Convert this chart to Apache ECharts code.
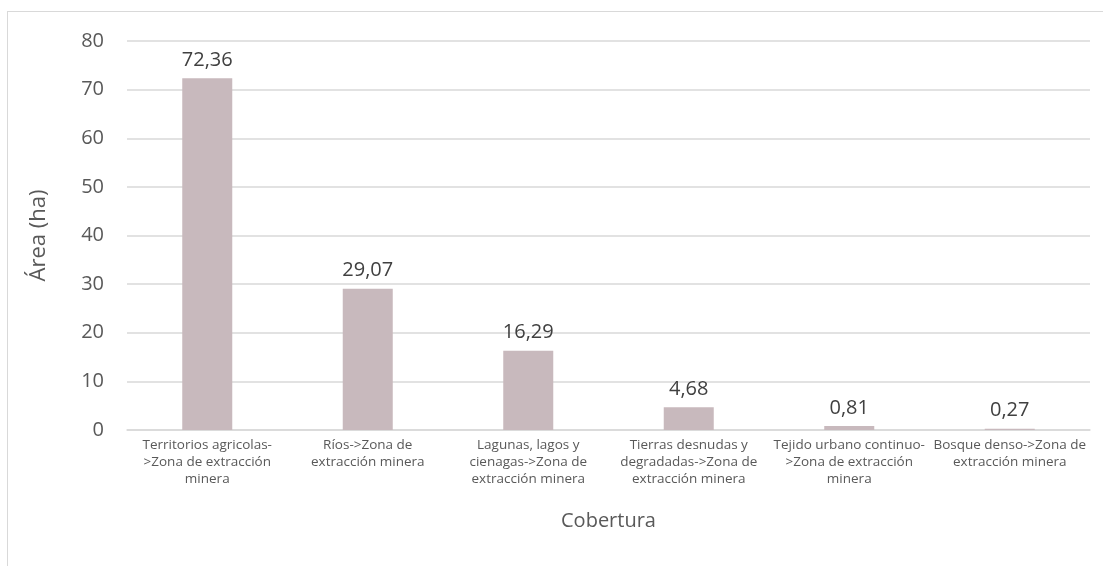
<!DOCTYPE html>
<html>
<head>
<meta charset="utf-8">
<script src="https://cdn.jsdelivr.net/npm/echarts@6/dist/echarts.min.js"></script>
<style>
html,body{margin:0;padding:0;background:#fff;overflow:hidden;}
#frame{position:absolute;left:7px;top:11px;width:1300px;height:800px;border:1.5px solid #d9d9d9;box-sizing:border-box;}
#chart{position:absolute;left:0;top:0;width:1103px;height:566px;}
</style>
</head>
<body>
<div id="frame"></div>
<div id="chart"></div>
<script>
const categories = [
  "Territorios agricolas-\n>Zona de extracción\nminera",
  "Ríos->Zona de\nextracción minera",
  "Lagunas, lagos y\ncienagas->Zona de\nextracción minera",
  "Tierras desnudas y\ndegradadas->Zona de\nextracción minera",
  "Tejido urbano continuo-\n>Zona de extracción\nminera",
  "Bosque denso->Zona de\nextracción minera"
];
const areaValues = [72.36, 29.07, 16.29, 4.68, 0.81, 0.27];
const yTicks = [0, 10, 20, 30, 40, 50, 60, 70, 80];

const FONT = "'Open Sans', sans-serif";
const chart = echarts.init(document.getElementById('chart'));
chart.setOption({
  animation: false,
  backgroundColor: 'transparent',
  grid: { left: 127, right: 13, top: 41, bottom: 136 },
  xAxis: {
    type: 'category',
    data: categories,
    name: 'Cobertura',
    nameLocation: 'middle',
    nameGap: 81,
    nameTextStyle: { color: '#595959', fontSize: 20, fontFamily: FONT },
    axisLine: { lineStyle: { color: '#d9d9d9', width: 1.5 } },
    axisTick: { show: false },
    axisLabel: { interval: 0, color: '#595959', fontSize: 13.5, fontFamily: FONT, lineHeight: 17, margin: 7 }
  },
  yAxis: {
    type: 'value',
    min: yTicks[0],
    max: yTicks[yTicks.length - 1],
    interval: 10,
    name: 'Área (ha)',
    nameLocation: 'middle',
    nameGap: 77,
    nameTextStyle: { color: '#595959', fontSize: 22, fontFamily: FONT },
    axisLine: { show: false },
    axisTick: { show: false },
    axisLabel: { color: '#595959', fontSize: 20, fontFamily: FONT, margin: 23 },
    splitLine: { lineStyle: { color: '#d9d9d9', width: 1.5 } }
  },
  series: [{
    type: 'bar',
    data: areaValues,
    barWidth: 50,
    itemStyle: { color: '#C8B9BD' },
    label: {
      show: true,
      position: 'top',
      distance: 8,
      color: '#404040',
      fontSize: 20,
      fontFamily: FONT,
      formatter: p => p.value.toFixed(2).replace('.', ',')
    }
  }]
});
</script>
</body>
</html>
